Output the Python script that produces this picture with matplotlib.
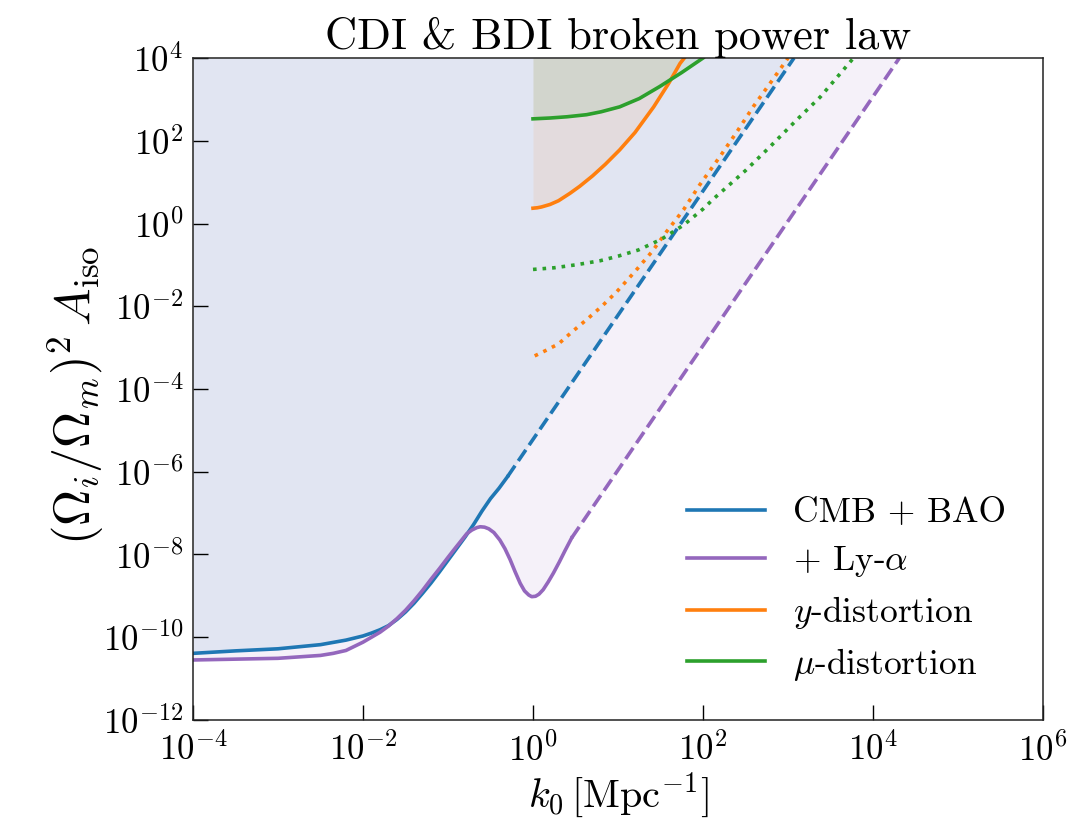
import numpy as np
import matplotlib
matplotlib.use("Agg")
import matplotlib.pyplot as plt

# ---- data (log10 values) ----
# CMB + BAO, solid part
logk_cmb = [-4.0, -3.5, -3.0, -2.5, -2.2, -2.0, -1.9, -1.8, -1.7, -1.6, -1.5, -1.4, -1.3, -1.2, -1.1,
            -1.0, -0.9, -0.8, -0.7, -0.6, -0.5, -0.4, -0.3]
logA_cmb = [-10.39, -10.33, -10.28, -10.18, -10.07, -9.97, -9.90, -9.82, -9.72, -9.57, -9.39, -9.18, -8.94,
            -8.69, -8.42, -8.14, -7.86, -7.58, -7.28, -6.95, -6.65, -6.40, -6.12]
# CMB + BAO, dashed extrapolation
logk_cmb_ext = [-0.3, 3.07]
logA_cmb_ext = [-6.12, 4.0]

# + Ly-alpha, solid part
logk_lya = [-4.0, -3.5, -3.0, -2.5, -2.35, -2.2, -2.0, -1.9, -1.8, -1.7, -1.6, -1.5, -1.4, -1.3, -1.2,
            -1.1, -1.0, -0.92, -0.85, -0.78, -0.72, -0.66, -0.62, -0.57, -0.52, -0.46, -0.39, -0.33,
            -0.27, -0.21, -0.15, -0.10, -0.05, -0.015, 0.03, 0.07, 0.12, 0.18, 0.24, 0.31, 0.376, 0.455]
logA_lya = [-10.55, -10.53, -10.51, -10.44, -10.39, -10.32, -10.12, -10.00, -9.88, -9.73, -9.55, -9.35, -9.12,
            -8.87, -8.60, -8.34, -8.07, -7.86, -7.68, -7.50, -7.41, -7.35, -7.33, -7.34, -7.38, -7.47,
            -7.65, -7.86, -8.12, -8.42, -8.70, -8.88, -8.98, -9.02, -9.01, -8.96, -8.85, -8.66, -8.45,
            -8.18, -7.91, -7.60]
# + Ly-alpha, dashed extrapolation
logk_lya_ext = [0.455, 4.31]
logA_lya_ext = [-7.60, 4.0]

# y-distortion: solid and dotted
logk_y = [0.0, 0.05, 0.1, 0.2, 0.3, 0.435, 0.55, 0.7, 0.85, 1.02, 1.2, 1.42, 1.6, 1.73, 1.78]
logA_y = [0.37, 0.38, 0.40, 0.46, 0.55, 0.73, 0.90, 1.15, 1.43, 1.78, 2.20, 2.82, 3.40, 3.87, 4.0]
logk_y_fc = [0.02, 0.15, 0.30, 0.47, 0.65, 0.82, 0.985, 1.2, 1.40, 1.57, 1.77, 1.96, 2.2, 2.4, 2.59, 2.8, 3.0]
logA_y_fc = [-3.2, -3.07, -2.91, -2.60, -2.29, -1.98, -1.65, -1.16, -0.68, -0.20, 0.33, 0.93, 1.62, 2.22,
             2.82, 3.42, 4.0]

# mu-distortion: solid and dotted
logk_mu = [0.0, 0.2, 0.4, 0.63, 0.8, 1.02, 1.25, 1.49, 1.75, 2.0]
logA_mu = [2.53, 2.55, 2.58, 2.63, 2.70, 2.82, 3.02, 3.31, 3.65, 4.0]
logk_mu_fc = [0.0, 0.25, 0.5, 0.79, 1.0, 1.24, 1.51, 1.77, 2.0, 2.12, 2.5, 2.79, 3.1, 3.38, 3.77]
logA_mu_fc = [-1.11, -1.07, -1.00, -0.90, -0.79, -0.64, -0.38, -0.04, 0.35, 0.59, 1.28, 1.86, 2.50, 3.06, 4.0]

labels = ["CMB + BAO", r"+ Ly-$\alpha$", r"$y$-distortion", r"$\mu$-distortion"]
xticks = [1e-4, 1e-2, 1e0, 1e2, 1e4, 1e6]
yticks = [1e-12, 1e-10, 1e-8, 1e-6, 1e-4, 1e-2, 1e0, 1e2, 1e4]

# ---- style ----
plt.rcParams.update({
    "font.family": "serif",
    "font.serif": ["cmr10"],
    "mathtext.fontset": "cm",
    "axes.formatter.use_mathtext": True,
    "axes.unicode_minus": False,
})

C_BLUE, C_PURP, C_ORNG, C_GRN = "#1f77b4", "#9467bd", "#ff7f0e", "#2ca02c"
LW = 2.6
TOP = 1e4

def p(v):
    return 10 ** np.asarray(v, dtype=float)

fig = plt.figure(figsize=(10.89, 8.23), dpi=100)
ax = fig.add_axes([0.1772, 0.1252, 0.7806, 0.8043])
ax.set_xscale("log")
ax.set_yscale("log")

# fills
kb = np.concatenate([p(logk_cmb), p(logk_cmb_ext[1:])])
Ab = np.concatenate([p(logA_cmb), p(logA_cmb_ext[1:])])
kp = np.concatenate([p(logk_lya), p(logk_lya_ext[1:])])
Ap = np.concatenate([p(logA_lya), p(logA_lya_ext[1:])])
ax.fill_between(kp, Ap, TOP, color=C_PURP, alpha=0.09, lw=0)
ax.fill_between(kb, Ab, TOP, color=C_BLUE, alpha=0.09, lw=0)
ax.fill_between(p(logk_y), p(logA_y), TOP, color=C_ORNG, alpha=0.09, lw=0)
ax.fill_between(p(logk_mu), p(logA_mu), TOP, color=C_GRN, alpha=0.09, lw=0)

# lines
ax.plot(p(logk_cmb), p(logA_cmb), color=C_BLUE, lw=LW, label=labels[0])
ax.plot(p(logk_cmb_ext), p(logA_cmb_ext), color=C_BLUE, lw=LW, ls="--")
ax.plot(p(logk_lya), p(logA_lya), color=C_PURP, lw=LW, label=labels[1])
ax.plot(p(logk_lya_ext), p(logA_lya_ext), color=C_PURP, lw=LW, ls="--")
ax.plot(p(logk_y), p(logA_y), color=C_ORNG, lw=LW, label=labels[2])
ax.plot(p(logk_y_fc), p(logA_y_fc), color=C_ORNG, lw=LW, ls=":")
ax.plot(p(logk_mu), p(logA_mu), color=C_GRN, lw=LW, label=labels[3])
ax.plot(p(logk_mu_fc), p(logA_mu_fc), color=C_GRN, lw=LW, ls=":")

ax.set_xlim(1e-4, 1e6)
ax.set_ylim(1e-12, 1e4)
ax.set_xticks(xticks)
ax.set_yticks(yticks)
ax.minorticks_off()
ax.tick_params(axis="both", which="major", direction="in", length=10.5, width=1.0,
               labelsize=25, top=False, right=False)
ax.tick_params(axis="x", pad=9)
ax.tick_params(axis="y", pad=7)
for s in ax.spines.values():
    s.set_linewidth(1.1)
    s.set_color("#222222")

ax.set_title("CDI & BDI broken power law", fontsize=32, pad=4)
ax.set_xlabel(r"$k_0\,[\mathrm{Mpc}^{-1}]$", fontsize=29, labelpad=2)
ax.set_ylabel(r"$(\Omega_i/\Omega_m)^2\,A_{\rm iso}$", fontsize=36)
ax.yaxis.set_label_coords(-0.102, 0.49)

leg = ax.legend(loc="lower right", frameon=False, fontsize=25.5, handlelength=2.2,
                handletextpad=0.8, labelspacing=0.42, borderaxespad=0.65)

fig.savefig("out.png", dpi=100)
